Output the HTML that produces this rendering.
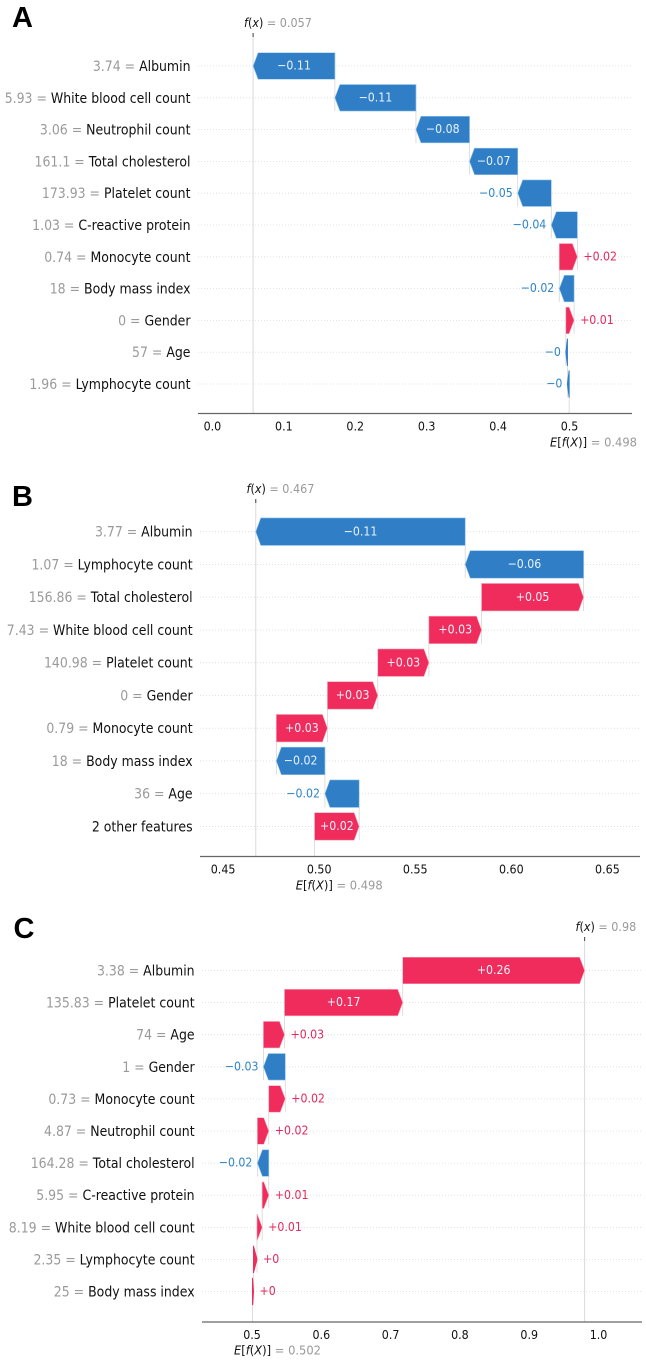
<!DOCTYPE html>
<html lang="en">
<head>
<meta charset="utf-8">
<title>SHAP waterfall plots</title>
<style>
html,body{margin:0;padding:0;background:#fff;width:646px;height:1360px;overflow:hidden}
svg{display:block;font-family:"DejaVu Sans","Liberation Sans",sans-serif;filter:blur(0.35px)}
</style>
</head>
<body>
<svg id="chart" width="646" height="1360" viewBox="0 0 646 1360" xmlns="http://www.w3.org/2000/svg"></svg>
<script>
// Panel A
const aFeatures = ["Albumin","White blood cell count","Neutrophil count","Total cholesterol","Platelet count","C-reactive protein","Monocyte count","Body mass index","Gender","Age","Lymphocyte count"];
const aValues = ["3.74","5.93","3.06","161.1","173.93","1.03","0.74","18","0","57","1.96"];
const aShap = [-0.1145,-0.1135,-0.075,-0.0675,-0.047,-0.0365,0.0253,-0.0207,0.0115,-0.0022,-0.0024];
const aLabels = ["−0.11","−0.11","−0.08","−0.07","−0.05","−0.04","+0.02","−0.02","+0.01","−0","−0"];
const aTicks = [0,0.1,0.2,0.3,0.4,0.5];
const aTickLabels = ["0.0","0.1","0.2","0.3","0.4","0.5"];
const aFx = 0.057;
const aBase = 0.498;
// Panel B
const bFeatures = ["Albumin","Lymphocyte count","Total cholesterol","White blood cell count","Platelet count","Gender","Monocyte count","Body mass index","Age","2 other features"];
const bValues = ["3.77","1.07","156.86","7.43","140.98","0","0.79","18","36",""];
const bShap = [-0.109,-0.0616,0.0531,0.0274,0.0266,0.0262,0.0266,-0.0253,-0.0178,0.0232];
const bLabels = ["−0.11","−0.06","+0.05","+0.03","+0.03","+0.03","+0.03","−0.02","−0.02","+0.02"];
const bTicks = [0.45,0.5,0.55,0.6,0.65];
const bTickLabels = ["0.45","0.50","0.55","0.60","0.65"];
const bFx = 0.467;
const bBase = 0.498;
// Panel C
const cFeatures = ["Albumin","Platelet count","Age","Gender","Monocyte count","Neutrophil count","Total cholesterol","C-reactive protein","White blood cell count","Lymphocyte count","Body mass index"];
const cValues = ["3.38","135.83","74","1","0.73","4.87","164.28","5.95","8.19","2.35","25"];
const cShap = [0.2625,0.1706,0.0304,-0.0315,0.0238,0.0164,-0.0164,0.0095,0.0075,0.005,0.0015];
const cLabels = ["+0.26","+0.17","+0.03","−0.03","+0.02","+0.02","−0.02","+0.01","+0.01","+0","+0"];
const cTicks = [0.5,0.6,0.7,0.8,0.9,1.0];
const cTickLabels = ["0.5","0.6","0.7","0.8","0.9","1.0"];
const cFx = 0.98;
const cBase = 0.502;

const NS = "http://www.w3.org/2000/svg";
const svg = document.getElementById("chart");
const BLUE = "#2f7ec6", PINK = "#ef2c5c", BLUE_T = "#2f86c8", PINK_T = "#e42a5d";
const HEAD = 5;
const SQUEEZE = 0.9;

function mk(tag, attrs, parent) {
  const el = document.createElementNS(NS, tag);
  for (const k in attrs) el.setAttribute(k, attrs[k]);
  (parent || svg).appendChild(el);
  return el;
}
// text whose glyphs are horizontally condensed like the reference
function txt(parent, px, py, size, anchor) {
  const el = mk("text", {x: 0, y: 0, "font-size": (size / SQUEEZE).toFixed(2), "text-anchor": anchor || "start",
    transform: "translate(" + px.toFixed(2) + " " + py.toFixed(2) + ") scale(" + SQUEEZE + " 1)"}, parent);
  return el;
}
function span(parent, t, fill, italic) {
  const s = document.createElementNS(NS, "tspan");
  s.textContent = t;
  s.setAttribute("fill", fill);
  if (italic) s.setAttribute("font-style", "italic");
  parent.appendChild(s);
}

function drawPanel(p) {
  const x = v => p.x0 + (v - p.v0) * p.scale;
  const y = i => p.yTop + i * p.pitch;
  const g = mk("g", {});
  
  

  // panel letter
  const letter = mk("text", {x: p.letterX, y: p.letterY, "font-family": '"Liberation Sans",sans-serif', "font-weight": "bold", "font-size": 29, fill: "#000"}, g);
  letter.textContent = p.key;
  
  

  // row grid lines
  p.features.forEach((f, i) => {
    const gl = mk("line", {x1: p.left, x2: p.right, y1: y(i), y2: y(i), stroke: "#dcdcdc", "stroke-width": 0.8, "stroke-dasharray": "1 2"}, g);
    
    
  });

  // f(x) reference line
  const fxLine = mk("line", {x1: x(p.fx), x2: x(p.fx), y1: p.fxTop, y2: p.axisY, stroke: "#dadada", "stroke-width": 1}, g);
  
  
  const fxTick = mk("line", {x1: x(p.fx), x2: x(p.fx), y1: p.fxTop, y2: p.fxTop + 4, stroke: "#444", "stroke-width": 1}, g);
  
  

  // bars
  let cur = p.fx;
  p.shap.forEach((s, i) => {
    const tip = cur, end = cur - s;
    const dir = s < 0 ? 1 : -1;           // direction from tip toward tail
    const xt = x(tip), xe = x(end), yc = y(i), h = p.barH / 2;
    const w = Math.abs(xe - xt);
    const hl = Math.min(HEAD, w);
    const xn = xt + dir * hl;
    const color = s < 0 ? BLUE : PINK;
    const last = i === p.shap.length - 1;

    // connector to next row
    const conn = mk("line", {x1: xe, x2: xe, y1: yc - h, y2: last ? p.axisY : y(i + 1) + h, stroke: "#d6d6d6", "stroke-width": 0.8}, g);
    
    

    const pts = [[xt, yc], [xn, yc - h], [xe, yc - h], [xe, yc + h], [xn, yc + h]];
    const edge = w < HEAD ? color : (s < 0 ? "#8fc4ee" : "#f7a9bd");
    const bar = mk("polygon", {points: pts.map(q => q[0].toFixed(2) + "," + q[1].toFixed(2)).join(" "), fill: color, stroke: edge, "stroke-width": w < HEAD ? 1 : 0.6, "stroke-linejoin": "round"}, g);
    
    

    // value label
    const inside = w >= 40;
    const lx = inside ? (xt + xe) / 2 : (s < 0 ? xt - 5 : xt + 6);
    const lab = txt(g, lx, yc + 3.6, 11, inside ? "middle" : (s < 0 ? "end" : "start"));
    lab.textContent = p.labels[i];
    lab.setAttribute("fill", inside ? "#e8f1fa" : (s < 0 ? BLUE_T : PINK_T));
    
    

    // feature label
    const fl = txt(g, p.labelRight, yc + 5, 12.5, "end");
    if (p.values[i] !== "") span(fl, p.values[i] + " = ", "#9a9a9a");
    span(fl, p.features[i], "#111");
    
    

    cur = end;
  });

  // x axis
  const ax = mk("line", {x1: p.left, x2: p.right + 1, y1: p.axisY, y2: p.axisY, stroke: "#666", "stroke-width": 1.2}, g);
  
  
  p.ticks.forEach((t, i) => {
    const tl = txt(g, x(t), p.axisY + 17, 11.1, "middle");
    tl.textContent = p.tickLabels[i];
    tl.setAttribute("fill", "#111");
    
    
  });

  // f(x) label
  const fxT = txt(g, p.fxLabelX, p.fxLabelY, 11.2);
  span(fxT, "f", "#111", true); span(fxT, "(", "#111"); span(fxT, "x", "#111", true); span(fxT, ")", "#111");
  span(fxT, " = " + p.fxText, "#9a9a9a");
  
  

  // E[f(X)] label
  const eT = txt(g, p.eLabelX, p.eLabelY, 11.5);
  span(eT, "E", "#111", true); span(eT, "[", "#111"); span(eT, "f", "#111", true); span(eT, "(", "#111");
  span(eT, "X", "#111", true); span(eT, ")]", "#111");
  span(eT, " = " + p.baseText, "#9a9a9a");
  
  
}

drawPanel({key:"A", features:aFeatures, values:aValues, shap:aShap, labels:aLabels, ticks:aTicks, tickLabels:aTickLabels,
  fx:aFx, fxText:"0.057", baseText:"0.498", x0:212.4, v0:0, scale:714.2, yTop:66, pitch:31.8, barH:26.5, axisY:413.5,
  left:198, right:631, labelRight:190.5, fxTop:33, fxLabelX:244, fxLabelY:27, eLabelX:550, eLabelY:446.5, letterX:12, letterY:27});
drawPanel({key:"B", features:bFeatures, values:bValues, shap:bShap, labels:bLabels, ticks:bTicks, tickLabels:bTickLabels,
  fx:bFx, fxText:"0.467", baseText:"0.498", x0:223.1, v0:0.45, scale:1921.5, yTop:531.7, pitch:32.75, barH:27.5, axisY:856.5,
  left:200, right:639, labelRight:192.6, fxTop:499, fxLabelX:246.5, fxLabelY:493, eLabelX:295.7, eLabelY:889.5, letterX:12, letterY:506});
drawPanel({key:"C", features:cFeatures, values:cValues, shap:cShap, labels:cLabels, ticks:cTicks, tickLabels:cTickLabels,
  fx:cFx, fxText:"0.98", baseText:"0.502", x0:252, v0:0.5, scale:693, yTop:970.5, pitch:32.1, barH:26.5, axisY:1322,
  left:202, right:641, labelRight:194.6, fxTop:937, fxLabelX:575.5, fxLabelY:931, eLabelX:234, eLabelY:1354.5, letterX:13.5, letterY:938});
</script>
</body>
</html>
